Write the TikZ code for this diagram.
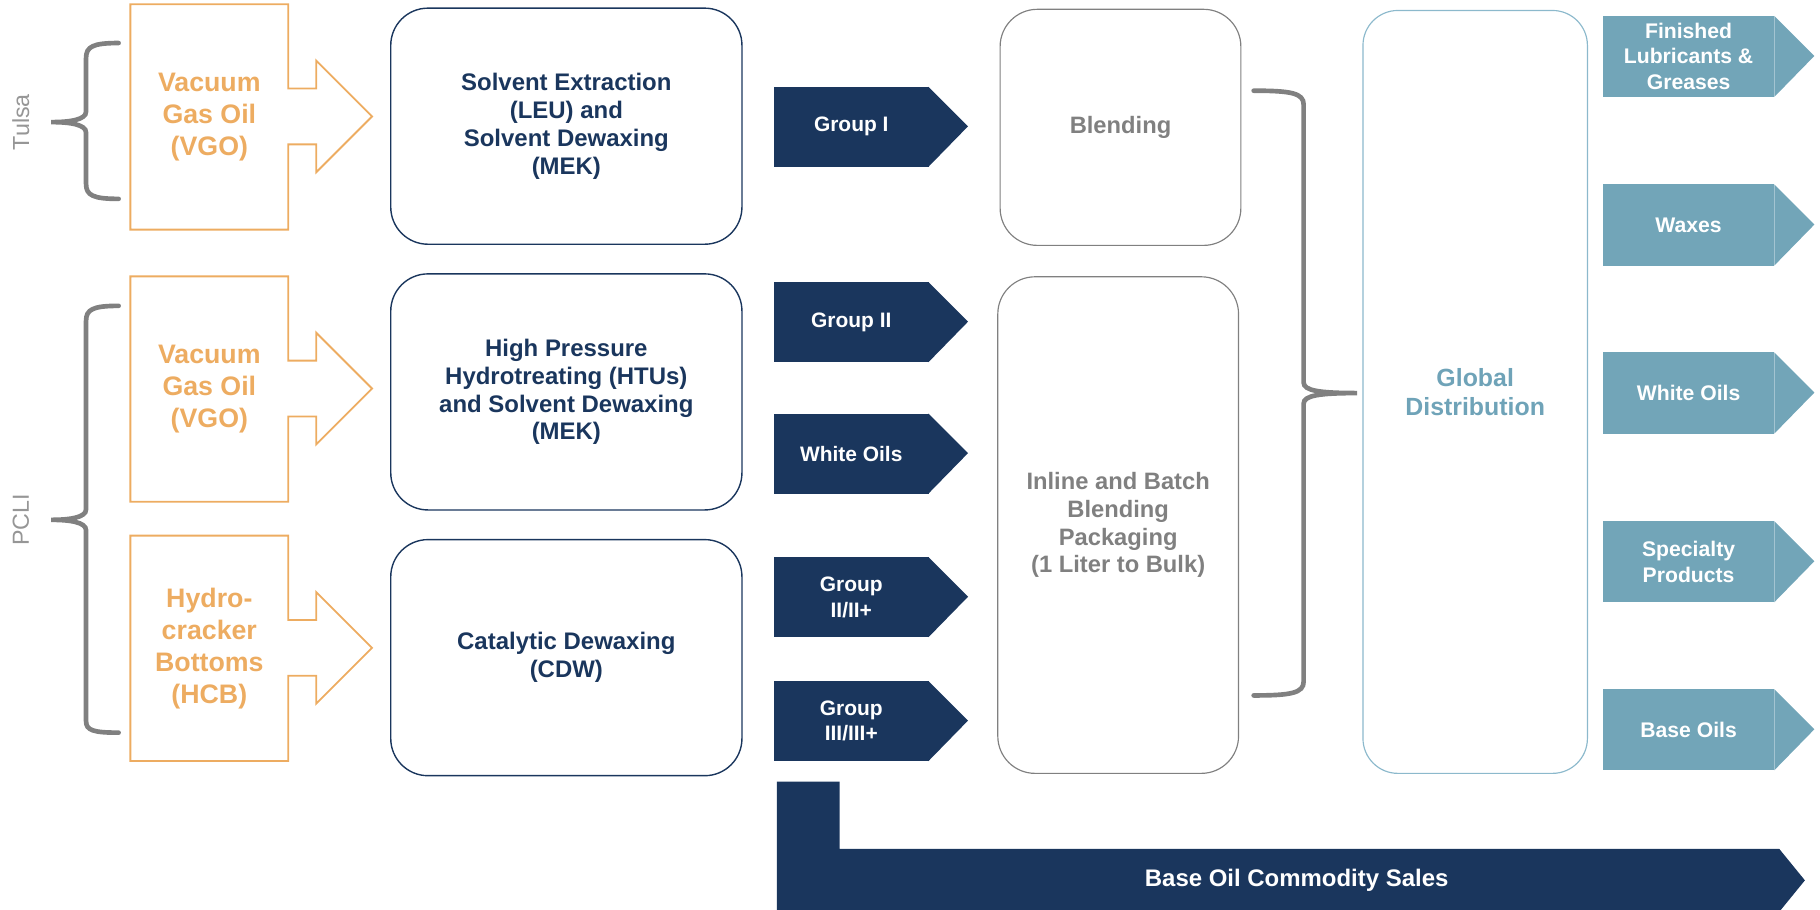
\documentclass[tikz,border=0pt]{standalone}
\usepackage{fontspec}
\setmainfont{Liberation Sans}
\usetikzlibrary{positioning,calc}
\definecolor{navy}{RGB}{26,54,93}
\definecolor{feedorange}{RGB}{237,172,97}
\definecolor{prodteal}{RGB}{114,165,184}
\definecolor{globtext}{RGB}{111,163,184}
\definecolor{globline}{RGB}{140,185,204}
\definecolor{blendgray}{RGB}{128,128,128}
\definecolor{bracegray}{RGB}{128,128,128}
\definecolor{sitegray}{RGB}{150,150,150}
\begin{document}
\begin{tikzpicture}[
    x=0.5pt, y=-0.5pt,
    inner sep=1pt, %text boxes stay inside the shapes
    feed/.style={rectangle,minimum width=67.5pt,minimum height=96.5pt,
        text=feedorange,align=center,
        font=\bfseries\fontsize{11.5}{13.75}\selectfont},
    feedline/.style={draw=feedorange,line width=0.8pt},
    unit/.style={rectangle,rounded corners=16pt,draw=navy,line width=0.6pt,
        minimum width=151pt,minimum height=101.5pt,
        text=navy,align=center,font=\bfseries\fontsize{10.3}{12}\selectfont},
    grp/.style={rectangle,fill=navy,draw=navy,
        minimum width=66pt,minimum height=34pt,
        text=white,align=center,font=\bfseries\fontsize{9}{11}\selectfont},
    blend/.style={rectangle,rounded corners=16pt,draw=blendgray,line width=0.5pt,
        minimum width=103.5pt,
        text=blendgray,align=center,font=\bfseries\fontsize{10.2}{11.9}\selectfont},
    prod/.style={rectangle,fill=prodteal,draw=prodteal,
        minimum width=73.25pt,minimum height=34.5pt,
        text=white,align=center,font=\bfseries\fontsize{9.1}{11}\selectfont},
    brace/.style={draw=bracegray,line width=2pt,line cap=round},
    site/.style={text=sitegray,font=\fontsize{10}{12}\selectfont,rotate=90},
    ]
    \useasboundingbox (0,0) rectangle (1565,782.5);

    % sites
    \node[site] (tulsa) at (18,105) {Tulsa};
    \node[site] (pcli) at (18,447) {PCLI};
    \draw[brace] (102,37) .. controls (80,37) and (74,40) .. (74,50)
        -- (74,96) .. controls (74,103) and (60,105) .. (44,105)
        .. controls (60,105) and (74,107) .. (74,114)
        -- (74,158) .. controls (74,168) and (80,171) .. (102,171);
    \draw[brace] (102,263) .. controls (80,263) and (74,266) .. (74,276)
        -- (74,438) .. controls (74,445) and (60,447) .. (44,447)
        .. controls (60,447) and (74,449) .. (74,456)
        -- (74,620) .. controls (74,628) and (80,630) .. (102,630);

    % feeds
    \node[feed] (vgo1) at (180,100.5) {Vacuum\\Gas Oil\\(VGO)};
    \draw[feedline] (vgo1.north east) -- ++(0,72.5) -- ++(24,0) -- ++(0,-24)
        -- ++(48,48) -- ++(-48,48) -- ++(0,-24) -- ++(-24,0)
        -- (vgo1.south east) -- (vgo1.south west) -- (vgo1.north west) -- cycle;
    \node[feed] (vgo2) at (180,334.5) {Vacuum\\Gas Oil\\(VGO)};
    \draw[feedline] (vgo2.north east) -- ++(0,72.5) -- ++(24,0) -- ++(0,-24)
        -- ++(48,48) -- ++(-48,48) -- ++(0,-24) -- ++(-24,0)
        -- (vgo2.south east) -- (vgo2.south west) -- (vgo2.north west) -- cycle;
    \node[feed] (hcb) at (180,557.5) {Hydro-\\cracker\\Bottoms\\(HCB)};
    \draw[feedline] (hcb.north east) -- ++(0,72.5) -- ++(24,0) -- ++(0,-24)
        -- ++(48,48) -- ++(-48,48) -- ++(0,-24) -- ++(-24,0)
        -- (hcb.south east) -- (hcb.south west) -- (hcb.north west) -- cycle;

    % process units
    \node[unit] (sx) at (487,108.5)
        {Solvent Extraction\\(LEU) and\\Solvent Dewaxing\\(MEK)};
    \node[unit] (htu) at (487,337)
        {High Pressure\\Hydrotreating (HTUs)\\and Solvent Dewaxing\\(MEK)};
    \node[unit] (cdw) at (487,565.5) {Catalytic Dewaxing\\(CDW)};

    % base oil groups
    \node[grp] (g1) at (732,109) {Group I};
    \fill[navy] (g1.north east) -- ++(34,34) -- (g1.south east) -- cycle;
    \node[grp] (g2) at (732,277) {Group II};
    \fill[navy] (g2.north east) -- ++(34,34) -- (g2.south east) -- cycle;
    \node[grp] (wo) at (732,390) {White Oils};
    \fill[navy] (wo.north east) -- ++(34,34) -- (wo.south east) -- cycle;
    \node[grp] (g2p) at (732,513.5) {Group\\II/II+};
    \fill[navy] (g2p.north east) -- ++(34,34) -- (g2p.south east) -- cycle;
    \node[grp] (g3p) at (732,620) {Group\\III/III+};
    \fill[navy] (g3p.north east) -- ++(34,34) -- (g3p.south east) -- cycle;

    % commodity sales
    \fill[navy] (668,672) -- (722,672) -- (722,730) -- (1530,730)
        -- (1552,757) -- (1530,784) -- (668,784) -- cycle;
    \node[text=white,font=\bfseries\fontsize{10.3}{12}\selectfont] (sales)
        at (1115,757) {Base Oil Commodity Sales};

    % blending
    \node[blend,minimum height=101.5pt] (blnd) at (963.5,109.5) {Blending};
    \node[blend,minimum height=213.5pt] (pack) at (961.5,451.5)
        {Inline and Batch\\Blending\\Packaging\\(1 Liter to Bulk)};
    \draw[brace] (1078,78) .. controls (1110,78) and (1121,80) .. (1121,90)
        -- (1121,329) .. controls (1121,336) and (1135,338) .. (1167,338)
        .. controls (1135,338) and (1121,340) .. (1121,347)
        -- (1121,586) .. controls (1121,596) and (1110,598) .. (1078,598);

    % distribution
    \node[rectangle,rounded corners=15pt,draw=globline,line width=0.5pt,
        minimum width=96.5pt,minimum height=328pt,text=globtext,align=center,
        font=\bfseries\fontsize{10.7}{12.2}\selectfont] (glob)
        at (1268.5,337) {Global\\Distribution};

    % products
    \node[prod] (fin) at (1452,48.5) {Finished\\Lubricants \&\\Greases};
    \fill[prodteal] (fin.north east) -- ++(34.5,34.5) -- (fin.south east) -- cycle;
    \node[prod] (wax) at (1452,193.5) {Waxes};
    \fill[prodteal] (wax.north east) -- ++(34.5,34.5) -- (wax.south east) -- cycle;
    \node[prod] (white) at (1452,338) {White Oils};
    \fill[prodteal] (white.north east) -- ++(34.5,34.5) -- (white.south east) -- cycle;
    \node[prod] (spec) at (1452,483) {Specialty\\Products};
    \fill[prodteal] (spec.north east) -- ++(34.5,34.5) -- (spec.south east) -- cycle;
    \node[prod] (base) at (1452,627.5) {Base Oils};
    \fill[prodteal] (base.north east) -- ++(34.5,34.5) -- (base.south east) -- cycle;
\end{tikzpicture}
\end{document}
